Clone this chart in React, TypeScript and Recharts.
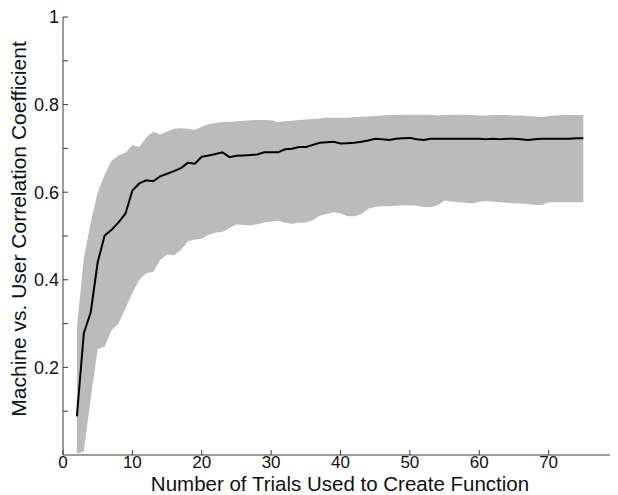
import React from "react";
import {
  ComposedChart,
  Area,
  Line,
  XAxis,
  YAxis,
} from "recharts";

// number of trials (x)
const trials = [
  2, 3, 4, 5, 6, 7, 8, 9, 10, 11, 12, 13, 14, 15, 16, 17, 18, 19, 20, 21, 22,
  23, 24, 25, 26, 27, 28, 29, 30, 31, 32, 33, 34, 35, 36, 37, 38, 39, 40, 41,
  42, 43, 44, 45, 46, 47, 48, 49, 50, 51, 52, 53, 54, 55, 56, 57, 58, 59, 60,
  61, 62, 63, 64, 65, 66, 67, 68, 69, 70, 71, 72, 73, 74, 75,
];

// mean correlation
const meanCorr = [
  0.088, 0.278, 0.326, 0.44, 0.501, 0.514, 0.531, 0.551, 0.604, 0.62, 0.627,
  0.625, 0.636, 0.642, 0.648, 0.655, 0.667, 0.665, 0.681, 0.684, 0.687, 0.691,
  0.68, 0.683, 0.684, 0.685, 0.686, 0.691, 0.691, 0.691, 0.698, 0.699, 0.703,
  0.703, 0.708, 0.713, 0.714, 0.715, 0.711, 0.712, 0.713, 0.715, 0.718, 0.722,
  0.721, 0.719, 0.722, 0.723, 0.724, 0.721, 0.719, 0.722, 0.722, 0.722, 0.722,
  0.722, 0.722, 0.722, 0.722, 0.721, 0.722, 0.721, 0.722, 0.722, 0.721, 0.719,
  0.721, 0.722, 0.722, 0.722, 0.722, 0.722, 0.723, 0.723,
];

// upper edge of shaded band
const upperCorr = [
  0.29, 0.45, 0.53, 0.6, 0.64, 0.672, 0.684, 0.69, 0.707, 0.703, 0.725, 0.738,
  0.732, 0.738, 0.745, 0.746, 0.745, 0.742, 0.75, 0.755, 0.758, 0.76, 0.761,
  0.762, 0.763, 0.764, 0.765, 0.765, 0.764, 0.76, 0.762, 0.763, 0.765, 0.766,
  0.767, 0.768, 0.77, 0.77, 0.77, 0.77, 0.771, 0.772, 0.773, 0.774, 0.775,
  0.776, 0.776, 0.777, 0.777, 0.777, 0.777, 0.777, 0.775, 0.776, 0.777, 0.777,
  0.777, 0.776, 0.775, 0.775, 0.776, 0.776, 0.776, 0.775, 0.775, 0.774, 0.773,
  0.771, 0.774, 0.775, 0.776, 0.776, 0.776, 0.776,
];

// lower edge of shaded band
const lowerCorr = [
  0.003, 0.008, 0.13, 0.242, 0.247, 0.285, 0.3, 0.335, 0.37, 0.4, 0.415, 0.418,
  0.445, 0.458, 0.456, 0.468, 0.488, 0.492, 0.494, 0.503, 0.508, 0.509, 0.518,
  0.526, 0.525, 0.524, 0.527, 0.531, 0.533, 0.535, 0.53, 0.528, 0.53, 0.531,
  0.536, 0.546, 0.55, 0.554, 0.552, 0.545, 0.545, 0.55, 0.562, 0.567, 0.568,
  0.568, 0.569, 0.57, 0.57, 0.569, 0.566, 0.566, 0.57, 0.581, 0.579, 0.577,
  0.576, 0.574, 0.578, 0.58, 0.578, 0.577, 0.576, 0.575, 0.574, 0.573, 0.571,
  0.571, 0.577, 0.577, 0.577, 0.577, 0.577, 0.577,
];

const xTicks = [0, 10, 20, 30, 40, 50, 60, 70];
const yTicks = [0.1, 0.2, 0.3, 0.4, 0.5, 0.6, 0.7, 0.8, 0.9, 1];
const yLabelled = [0.2, 0.4, 0.6, 0.8, 1];

const data = trials.map((t, i) => ({
  trials: t,
  mean: meanCorr[i],
  band: [lowerCorr[i], upperCorr[i]],
}));

const FONT = "'Liberation Sans', Arial, Helvetica, sans-serif";
const AXIS = "#3a3a3a";

function XTick(props: any) {
  const { x, y, payload } = props;
  return (
    <g>
      <line x1={x} y1={y} x2={x} y2={y - 5} stroke={AXIS} strokeWidth={1} />
      <text x={x} y={y + 13} textAnchor="middle" fontSize={17} fontFamily={FONT} fill="#111">
        {payload.value}
      </text>
    </g>
  );
}

function YTick(props: any) {
  const { x, y, payload } = props;
  const v = payload.value;
  const show = yLabelled.some((l) => Math.abs(l - v) < 1e-6);
  return (
    <g>
      <line x1={x} y1={y} x2={x + 5} y2={y} stroke={AXIS} strokeWidth={1} />
      {show && (
        <text x={x - 4} y={y} dy="0.36em" textAnchor="end" fontSize={18} fontFamily={FONT} fill="#111">
          {v === 1 ? "1" : v.toFixed(1)}
        </text>
      )}
    </g>
  );
}

function XTitle() {
  return (
    <text x={332} y={482.5} textAnchor="middle" fontSize={20.5} fontFamily={FONT} fill="#111">
      Number of Trials Used to Create Function
    </text>
  );
}

function YTitle() {
  return (
    <text
      x={18}
      y={221}
      textAnchor="middle"
      fontSize={21}
      fontFamily={FONT}
      fill="#111"
      transform="rotate(-90 18 221)"
    >
      Machine vs. User Correlation Coefficient
    </text>
  );
}

export default function App() {
  return (
    <div style={{ width: 610, height: 487 }}>
      <ComposedChart
        width={610}
        height={487}
        data={data}
        margin={{ top: 9, right: 0, bottom: 0, left: 0 }}
      >
        <XAxis
          dataKey="trials"
          type="number"
          domain={[0, 80]}
          ticks={xTicks}
          allowDataOverflow
          height={40}
          tickSize={0}
          tickMargin={0}
          tickLine={false}
          axisLine={{ stroke: AXIS, strokeWidth: 1 }}
          tick={<XTick />}
          label={<XTitle />}
        />
        <YAxis
          type="number"
          domain={[0, 1]}
          ticks={yTicks}
          allowDataOverflow
          width={55}
          tickSize={0}
          tickMargin={0}
          tickLine={false}
          axisLine={{ stroke: AXIS, strokeWidth: 1 }}
          tick={<YTick />}
          label={<YTitle />}
        />
        <Area
          dataKey="band"
          type="linear"
          stroke="none"
          fill="#bbbbbb"
          fillOpacity={1}
          isAnimationActive={false}
          activeDot={false}
        />
        <Line
          dataKey="mean"
          type="linear"
          stroke="#000"
          strokeWidth={2}
          dot={false}
          activeDot={false}
          isAnimationActive={false}
        />
      </ComposedChart>
    </div>
  );
}
